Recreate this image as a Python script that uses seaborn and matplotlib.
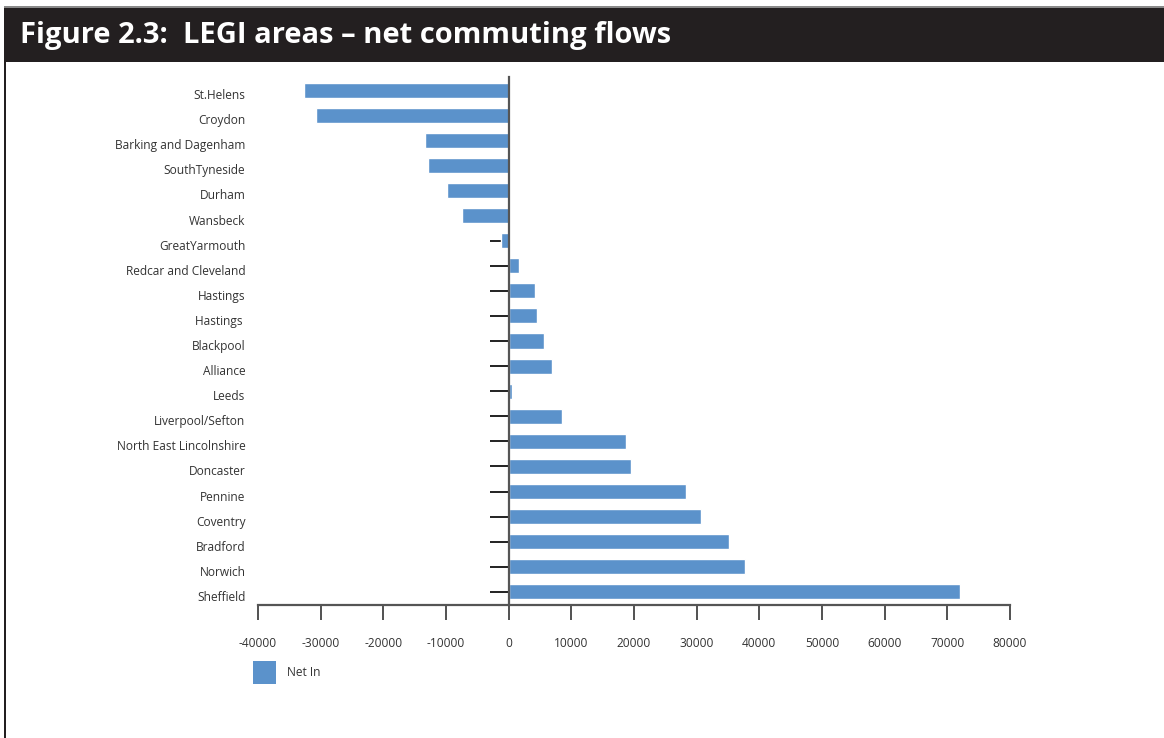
import pandas as pd
import numpy as np
import matplotlib.pyplot as plt
import matplotlib.transforms as mtransforms
import seaborn as sns
from matplotlib.patches import Rectangle

# net commuting flows per LEGI area
areas = ["St.Helens", "Croydon", "Barking and Dagenham", "SouthTyneside", "Durham",
         "Wansbeck", "GreatYarmouth", "Redcar and Cleveland", "Hastings", "Hastings ",
         "Blackpool", "Alliance", "Leeds", "Liverpool/Sefton", "North East Lincolnshire",
         "Doncaster", "Pennine", "Coventry", "Bradford", "Norwich", "Sheffield"]
net_in = [-32600, -30700, -13300, -12800, -9900, -7500, -1300, 1600, 4150, 4600,
          5600, 6900, 500, 8500, 18700, 19600, 28300, 30700, 35100, 37700, 72000]
xticks = [-40000, -30000, -20000, -10000, 0, 10000, 20000, 30000, 40000, 50000,
          60000, 70000, 80000]

data = pd.DataFrame({"area": areas, "net": net_in})

sns.set_style("white")
plt.rcParams['font.family'] = ['Open Sans', 'DejaVu Sans']

fig = plt.figure(figsize=(11.64, 7.38), dpi=100)
W, H = 1164, 738

# header band
fig.patches.append(Rectangle((4 / W, 1 - 62 / H), 1 - 4 / W, 55 / H, transform=fig.transFigure,
                             facecolor="#231f20", edgecolor="none", zorder=0))
fig.patches.append(Rectangle((4 / W, 1 - 8 / H), 1 - 4 / W, 1.5 / H, transform=fig.transFigure,
                             facecolor="#8a8a8a", edgecolor="none", zorder=1))
# left page border
fig.patches.append(Rectangle((4 / W, 0), 2 / W, 1 - 62 / H, transform=fig.transFigure,
                             facecolor="#231f20", edgecolor="none", zorder=0))
fig.text(20 / W, 1 - 36 / H, "Figure 2.3:  LEGI areas \u2013 net commuting flows",
         color="white", fontsize=21, fontweight="bold", va="center", ha="left",
         family=["Open Sans", "DejaVu Sans"])

ax = fig.add_axes([258 / W, 1 - 605 / H, (1010 - 258) / W, (605 - 77) / H])
sns.barplot(data=data, x="net", y="area", orient="h", color="#5b92cb", saturation=1,
            width=0.6, ax=ax, zorder=2)

ax.set_xlim(-40000, 80000)
ax.set_ylim(20.52, -0.52)
ax.set_xticks(xticks)
ax.set_xticklabels([str(v) for v in xticks])
ax.set_xlabel("")
ax.set_ylabel("")

for s in ["top", "right"]:
    ax.spines[s].set_visible(False)
ax.spines["left"].set_position(("data", 0))
ax.spines["left"].set_color("#555555")
ax.spines["left"].set_linewidth(1.6)
ax.spines["left"].set_zorder(3)
ax.spines["bottom"].set_color("#555555")
ax.spines["bottom"].set_linewidth(1.6)
ax.set_axisbelow(True)

ax.tick_params(axis="y", direction="out", length=13.5, width=1.4, color="#222222",
               pad=176, labelsize=8.6, labelcolor="#333333", left=True)
ax.tick_params(axis="x", direction="out", length=11, width=1.2, color="#333333",
               pad=12, labelsize=8.6, labelcolor="#333333", bottom=True)

# category labels sit slightly below their ticks in the original
shift = mtransforms.ScaledTranslation(0, -4 / 100, fig.dpi_scale_trans)
for lab in ax.get_yticklabels():
    lab.set_transform(lab.get_transform() + shift)

# legend
fig.patches.append(Rectangle((253 / W, 1 - 684 / H), 23 / W, 23 / H, transform=fig.transFigure,
                             facecolor="#5b92cb", edgecolor="none"))
fig.text(287 / W, 1 - 673 / H, "Net In", fontsize=8.6, color="#333333", va="center", ha="left")

plt.savefig("out.png", dpi=100)
